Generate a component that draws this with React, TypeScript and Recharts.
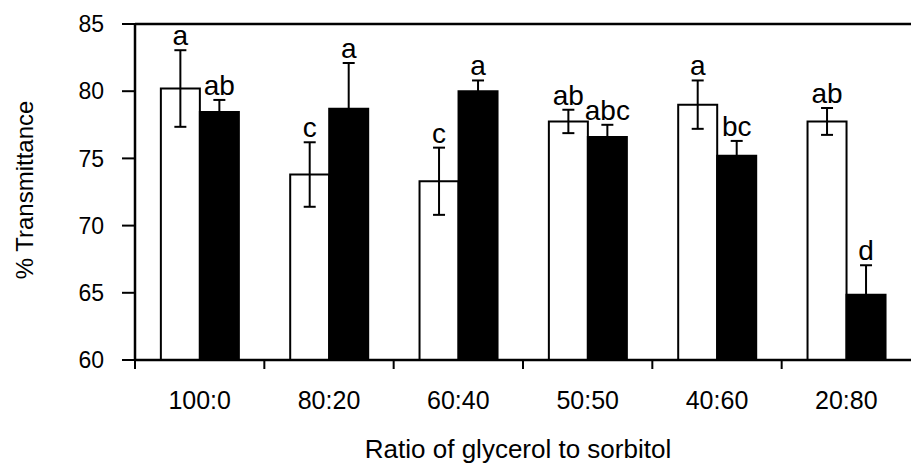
import React from 'react';
import { BarChart, Bar, XAxis, YAxis, ErrorBar, LabelList, ReferenceLine, Label } from 'recharts';

const categories = ['100:0', '80:20', '60:40', '50:50', '40:60', '20:80'];
const whiteValues = [80.2, 73.8, 73.3, 77.75, 79.0, 77.75];
const whiteErrors = [2.85, 2.4, 2.5, 0.87, 1.8, 1.0];
const blackValues = [78.45, 78.7, 80.0, 76.6, 75.2, 64.85];
const blackErrors = [0.9, 3.4, 0.8, 0.9, 1.1, 2.2];
const whiteLetters = ['a', 'c', 'c', 'ab', 'a', 'ab'];
const blackLetters = ['ab', 'a', 'a', 'abc', 'bc', 'd'];
const yTicks = [60, 65, 70, 75, 80, 85];

const FONT = '"Liberation Sans", Arial, sans-serif';

const data = categories.map((c, i) => ({
  cat: c,
  white: whiteValues[i],
  whiteErr: whiteErrors[i],
  black: blackValues[i],
  blackErr: blackErrors[i],
  wl: whiteLetters[i],
  bl: blackLetters[i],
}));

const makeLetter = (values: number[], errors: number[], letters: string[]) => (props: any) => {
  const vb = props.viewBox || {};
  const x = props.x ?? vb.x;
  const y = props.y ?? vb.y;
  const w = props.width ?? vb.width;
  const h = props.height ?? vb.height;
  const i = props.index;
  if (i == null) return null;
  const v = values[i];
  const e = errors[i];
  const ppu = h / (v - 60);
  const top = y - e * ppu;
  return (
    <text x={x + w / 2} y={top - 5} textAnchor="middle" fontSize={28} fontFamily={FONT} fill="#000">
      {letters[i]}
    </text>
  );
};

const XTick = (props: any) => {
  const { x, y, payload } = props;
  const half = payload && payload.offset != null ? payload.offset : 776 / 12;
  return (
    <g>
      <line x1={x - half} y1={y} x2={x - half} y2={y + 9} stroke="#000" strokeWidth={2} />
      <text x={x} y={y + 49} textAnchor="middle" fontSize={25} fontFamily={FONT} fill="#000">
        {payload.value}
      </text>
    </g>
  );
};

export default function App() {
  return (
    <div style={{ position: 'absolute', left: 0, top: 0, background: '#fff' }}>
      <BarChart
        width={912}
        height={466}
        data={data}
        margin={{ top: 24, right: 1, bottom: 0, left: 0 }}
        barCategoryGap="20%"
        barGap={0}
      >
        <XAxis
          dataKey="cat"
          height={106}
          axisLine={{ stroke: '#000', strokeWidth: 2.5 }}
          tickLine={false}
          tickSize={0}
          tickMargin={0}
          tick={<XTick />}
          interval={0}
        >
          <Label
            content={(p: any) => {
              const vb = p.viewBox || {};
              return (
                <text
                  x={vb.x + vb.width / 2 - 5}
                  y={vb.y + vb.height - 8}
                  textAnchor="middle"
                  fontSize={26}
                  fontFamily={FONT}
                  fill="#000"
                >
                  Ratio of glycerol to sorbitol
                </text>
              );
            }}
          />
        </XAxis>
        <YAxis
          width={135}
          domain={[60, 85]}
          ticks={yTicks}
          allowDataOverflow
          axisLine={{ stroke: '#000', strokeWidth: 2.5 }}
          tickLine={{ stroke: '#000', strokeWidth: 2 }}
          tickSize={13}
          tickMargin={18}
          tick={{ fontSize: 23, fontFamily: FONT, fill: '#000' }}
        >
          <Label
            content={() => (
              <text
                x={33}
                y={190}
                transform="rotate(-90, 33, 190)"
                textAnchor="middle"
                fontSize={24}
                fontFamily={FONT}
                fill="#000"
              >
                % Transmittance
              </text>
            )}
          />
        </YAxis>
        <ReferenceLine y={85} stroke="#000" strokeWidth={2.5} />
        <Bar dataKey="white" fill="#fff" stroke="#000" strokeWidth={2} isAnimationActive={false}>
          <ErrorBar dataKey="whiteErr" width={6} stroke="#000" strokeWidth={2} direction="y" />
          <LabelList dataKey="wl" content={makeLetter(whiteValues, whiteErrors, whiteLetters)} />
        </Bar>
        <Bar dataKey="black" fill="#000" stroke="#000" strokeWidth={2} isAnimationActive={false}>
          <ErrorBar dataKey="blackErr" width={6} stroke="#000" strokeWidth={2} direction="y" />
          <LabelList dataKey="bl" content={makeLetter(blackValues, blackErrors, blackLetters)} />
        </Bar>
      </BarChart>
    </div>
  );
}
